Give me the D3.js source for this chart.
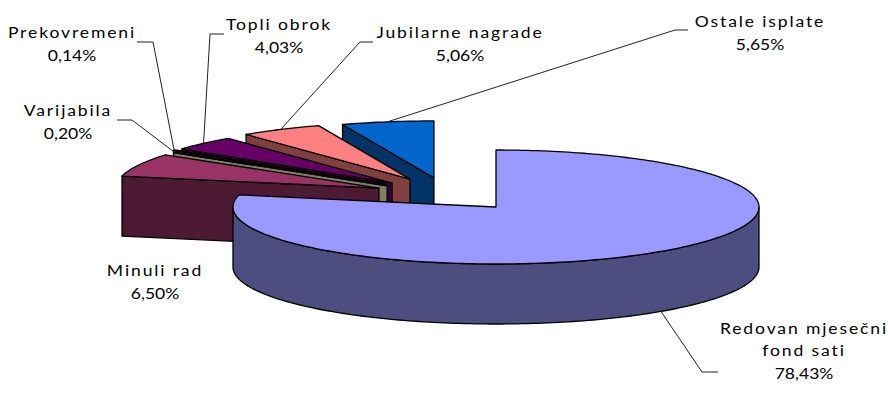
<!DOCTYPE html>
<html lang="en">
  <head>
    <meta charset="utf-8">
    <style>
      html, body { margin: 0; background: #fff; }
      svg { display: block; }
      text {
        font-family: Lato, "Open Sans", sans-serif;
        font-size: 15px;
        fill: #000;
        text-anchor: middle;
      }
      .name { letter-spacing: 1.6px; }
      .slice { stroke: #000; stroke-width: 1.3; stroke-linejoin: round; }
      .leader { fill: none; stroke: #222; stroke-width: 1; }
    </style>
  </head>
  <body>
    <script src="https://d3js.org/d3.v7.min.js"></script>
    <script>
    // chart data, clockwise from 12 o'clock
    var categories = ['Redovan mjesečni fond sati', 'Minuli rad', 'Varijabila', 'Prekovremeni', 'Topli obrok', 'Jubilarne nagrade', 'Ostale isplate'];
    var values = [78.43, 6.50, 0.20, 0.14, 4.03, 5.06, 5.65];
    var percentLabels = ['78,43%', '6,50%', '0,20%', '0,14%', '4,03%', '5,06%', '5,65%'];

    var topColors = ['#9999ff', '#993366', '#ffffcc', '#ccffff', '#660066', '#ff8080', '#0066cc'];
    var wallColors = ['#4d4d80', '#4d1a33', '#808066', '#668080', '#330033', '#804040', '#003366'];

    // how far each slice is pulled out of the pie, in units of the disc radius
    var explodeX = [0, -0.445, -0.414, -0.422, -0.395, -0.327, -0.236];
    var explodeY = [0, -0.33, -0.37, -0.40, -0.42, -0.49, -0.51];

    // label block centre, line pitch; leader elbow and its horizontal end
    var labelLines = [['Redovan mjesečni', 'fond sati'], ['Minuli rad'], ['Varijabila'], ['Prekovremeni'], ['Topli obrok'], ['Jubilarne nagrade'], ['Ostale isplate']];
    var labelX = [804, 155, 68, 72, 279, 460, 760];
    var labelY = [356, 276, 116, 38, 30, 38, 27];
    var elbowX = [702, null, 132, 153, 210, 360, 675];
    var elbowY = [372, null, 120, 42, 34, 42, 30];
    var elbowEndX = [718, null, 117, 137, 224, 373, 688];

    var width = 888;
    var height = 404;
    var depth = 60;
    var textStretch = 1.17; // reference text is stretched sideways

    var svg = d3.select('body')
      .append('svg')
      .attr('width', width)
      .attr('height', height);

    // the tilted disc: unit circle onto a flat ellipse
    var x = d3.scaleLinear().domain([-1, 1]).range([233, 759]);
    var y = d3.scaleLinear().domain([-1, 1]).range([150, 264]);

    var slices = d3.pie().sort(null).startAngle(0).endAngle(2 * Math.PI)(values);

    function rim(d, i, a, drop) {
      return [x(explodeX[i] + Math.sin(a)), y(explodeY[i] - Math.cos(a)) + (drop || 0)];
    }
    function apex(d, i, drop) {
      return [x(explodeX[i]), y(explodeY[i]) + (drop || 0)];
    }
    function arcPoints(d, i, a0, a1, drop) {
      var n = Math.max(2, Math.ceil(Math.abs(a1 - a0) / 0.02));
      return d3.range(n + 1).map(function(k) {
        return rim(d, i, a0 + (a1 - a0) * k / n, drop);
      });
    }

    var line = d3.line();

    // back slices first, the big one goes on top of them
    d3.range(slices.length).reverse().forEach(function(i) {
      if (i === 0) return;
      var d = slices[i];
      // cut face on the start-angle side is the only wall seen from here
      svg.append('path')
        .attr('class', 'slice')
        .attr('fill', wallColors[i])
        .attr('d', line([rim(d, i, d.startAngle), apex(d, i), apex(d, i, depth), rim(d, i, d.startAngle, depth)]) + 'Z');
      svg.append('path')
        .attr('class', 'slice')
        .attr('fill', topColors[i])
        .attr('d', line([apex(d, i)].concat(arcPoints(d, i, d.startAngle, d.endAngle))) + 'Z');
    });

    // big slice: outer wall along the front half, then its top
    var main = slices[0];
    var front = arcPoints(main, 0, Math.PI / 2, 3 * Math.PI / 2);
    var frontLow = arcPoints(main, 0, 3 * Math.PI / 2, Math.PI / 2, depth);
    svg.append('path')
      .attr('class', 'slice')
      .attr('fill', wallColors[0])
      .attr('d', line(front.concat(frontLow)) + 'Z');
    svg.append('path')
      .attr('class', 'slice')
      .attr('fill', topColors[0])
      .attr('d', line([apex(main, 0)].concat(arcPoints(main, 0, main.startAngle, main.endAngle))) + 'Z');

    // leaders
    slices.forEach(function(d, i) {
      if (elbowX[i] === null) return;
      var mid = (d.startAngle + d.endAngle) / 2;
      var start = rim(d, i, mid, i === 0 ? depth : 0);
      svg.append('path')
        .attr('class', 'leader')
        .attr('d', line([start, [elbowX[i], elbowY[i]], [elbowEndX[i], elbowY[i]]]));
    });

    // labels
    function addText(cls, t, cx, cy) {
      svg.append('text')
        .attr('class', cls)
        .attr('transform', 'translate(' + cx + ',' + cy + ') scale(' + textStretch + ',1)')
        .text(t);
    }
    categories.forEach(function(c, i) {
      var lines = labelLines[i];
      var top = labelY[i] - (lines.length - 1) * 22.5;
      lines.forEach(function(t, k) {
        addText('name', t, labelX[i], top + k * 22.5);
      });
      addText('value', percentLabels[i], labelX[i], top + lines.length * 22.5);
    });
    </script>
  </body>
</html>
